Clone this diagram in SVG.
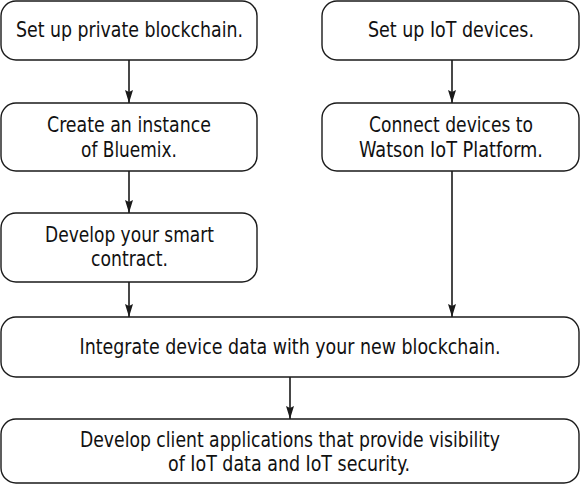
<svg xmlns="http://www.w3.org/2000/svg" width="580" height="484" viewBox="0 0 580 484">
<defs>
<style>
.box{fill:#fff;stroke:#1a1a1a;stroke-width:1.4}
.t{font-family:"Liberation Sans Narrow","DejaVu Sans Condensed","Liberation Sans",sans-serif;font-size:20.5px;fill:#111;text-anchor:middle}
.c{stroke:#1a1a1a;stroke-width:1.6;fill:none}
</style>
<marker id="ah" viewBox="0 0 13 8" refX="13" refY="4" markerWidth="13" markerHeight="8" markerUnits="userSpaceOnUse" orient="auto">
<path d="M0,0 L2,4 L0,8 L13,4 Z" fill="#1a1a1a"/>
</marker>
</defs>
<rect width="580" height="484" fill="#fff"/>
<g id="connectors">
<line class="c" x1="129" y1="60" x2="129" y2="103" marker-end="url(#ah)"/>
<line class="c" x1="129" y1="171" x2="129" y2="213" marker-end="url(#ah)"/>
<line class="c" x1="129" y1="282" x2="129" y2="317" marker-end="url(#ah)"/>
<line class="c" x1="452" y1="60" x2="452" y2="103" marker-end="url(#ah)"/>
<line class="c" x1="452" y1="171" x2="452" y2="317" marker-end="url(#ah)"/>
<line class="c" x1="290" y1="377" x2="290" y2="419" marker-end="url(#ah)"/>
</g>
<g id="n1">
<rect class="box" x="1" y="1" width="256" height="59" rx="15"/>
<text class="t" x="129.5" y="37" textLength="227" lengthAdjust="spacingAndGlyphs">Set up private blockchain.</text>
</g>
<g id="n2">
<rect class="box" x="1" y="103" width="256" height="68" rx="15"/>
<text class="t" x="129" y="132" textLength="164" lengthAdjust="spacingAndGlyphs">Create an instance</text>
<text class="t" x="129" y="157" textLength="96" lengthAdjust="spacingAndGlyphs">of Bluemix.</text>
</g>
<g id="n3">
<rect class="box" x="1" y="213" width="256" height="69" rx="15"/>
<text class="t" x="129.5" y="242" textLength="169" lengthAdjust="spacingAndGlyphs">Develop your smart</text>
<text class="t" x="129.5" y="266" textLength="77" lengthAdjust="spacingAndGlyphs">contract.</text>
</g>
<g id="n4">
<rect class="box" x="322" y="1" width="257" height="59" rx="15"/>
<text class="t" x="451" y="37" textLength="166" lengthAdjust="spacingAndGlyphs">Set up IoT devices.</text>
</g>
<g id="n5">
<rect class="box" x="322" y="103" width="257" height="68" rx="15"/>
<text class="t" x="451" y="132" textLength="164" lengthAdjust="spacingAndGlyphs">Connect devices to</text>
<text class="t" x="451" y="157" textLength="184" lengthAdjust="spacingAndGlyphs">Watson IoT Platform.</text>
</g>
<g id="n6">
<rect class="box" x="1" y="317" width="578" height="60" rx="15"/>
<text class="t" x="290" y="354" textLength="421" lengthAdjust="spacingAndGlyphs">Integrate device data with your new blockchain.</text>
</g>
<g id="n7">
<rect class="box" x="1" y="419" width="578" height="64" rx="15"/>
<text class="t" x="290" y="447" textLength="420" lengthAdjust="spacingAndGlyphs">Develop client applications that provide visibility</text>
<text class="t" x="289" y="471" textLength="242" lengthAdjust="spacingAndGlyphs">of IoT data and IoT security.</text>
</g>
</svg>
